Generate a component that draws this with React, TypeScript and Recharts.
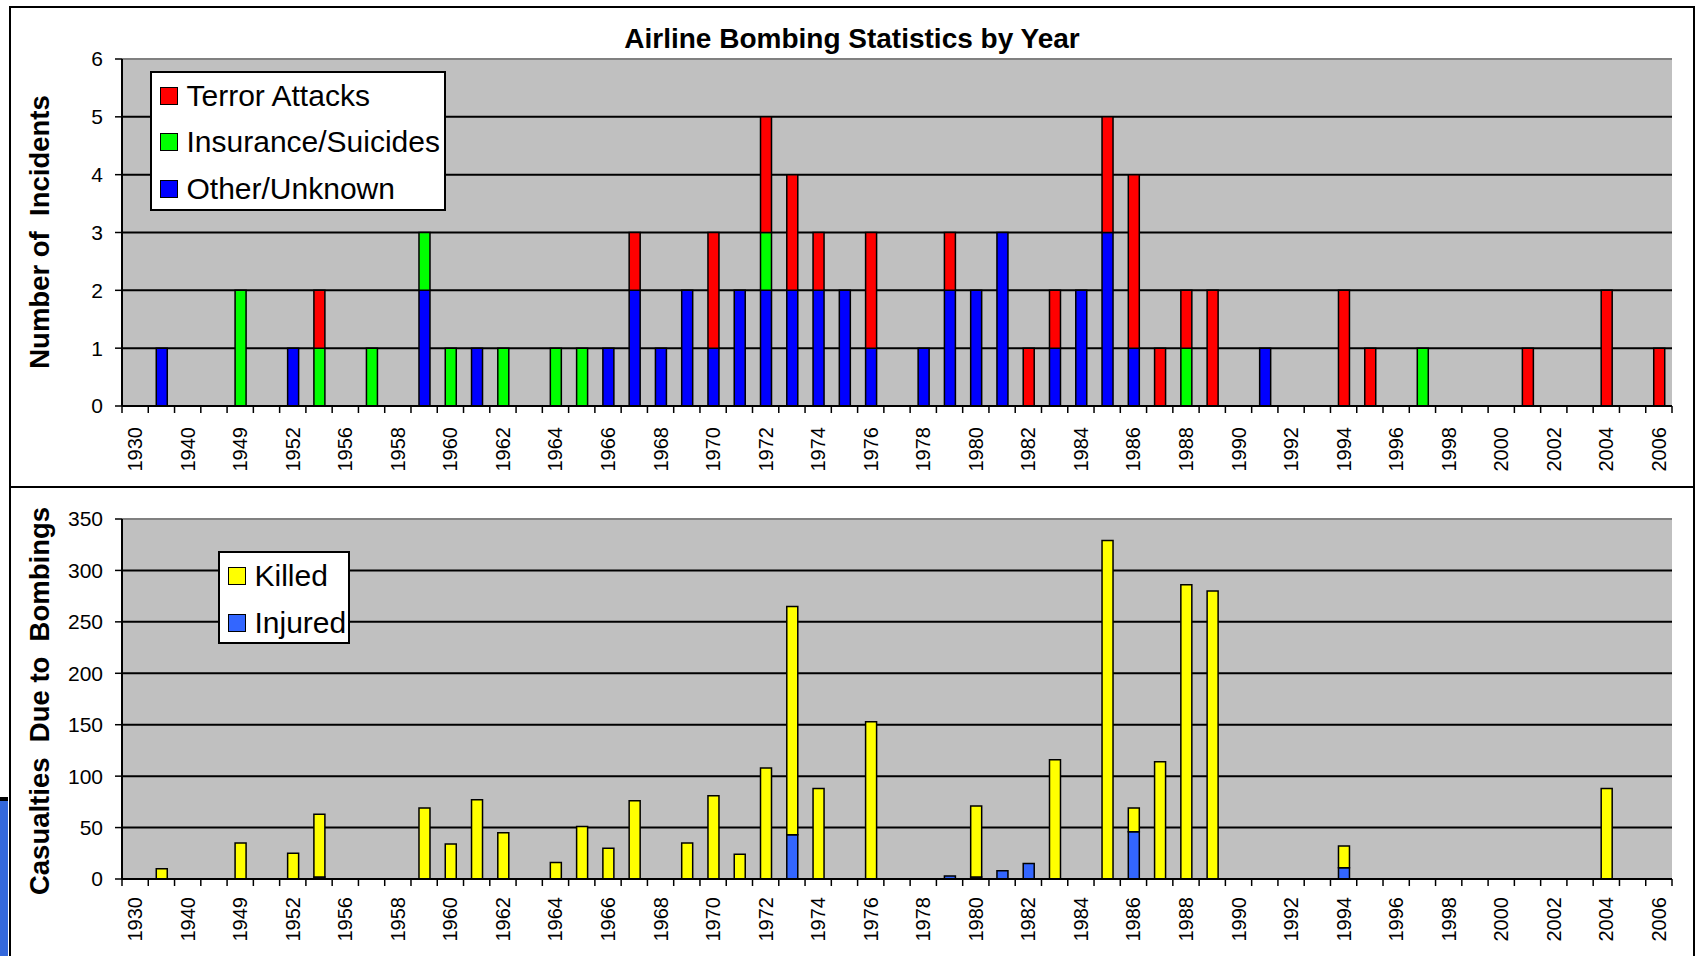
import { BarChart, Bar, XAxis, YAxis, CartesianGrid, Legend, ReferenceLine } from 'recharts';

const FONT = '"Liberation Sans", Arial, sans-serif';

// categories (only some early years are present, then every year from 1958)
const years = [
  '1930', '1933', '1940', '1947', '1949', '1950', '1952', '1955', '1956', '1957',
  '1958', '1959', '1960', '1961', '1962', '1963', '1964', '1965', '1966', '1967',
  '1968', '1969', '1970', '1971', '1972', '1973', '1974', '1975', '1976', '1977',
  '1978', '1979', '1980', '1981', '1982', '1983', '1984', '1985', '1986', '1987',
  '1988', '1989', '1990', '1991', '1992', '1993', '1994', '1995', '1996', '1997',
  '1998', '1999', '2000', '2001', '2002', '2003', '2004', '2005', '2006',
];

// incidents per year
const otherUnknown = [
  0, 1, 0, 0, 0, 0, 1, 0, 0, 0,
  0, 2, 0, 1, 0, 0, 0, 0, 1, 2,
  1, 2, 1, 2, 2, 2, 2, 2, 1, 0,
  1, 2, 2, 3, 0, 1, 2, 3, 1, 0,
  0, 0, 0, 1, 0, 0, 0, 0, 0, 0,
  0, 0, 0, 0, 0, 0, 0, 0, 0,
];
const insuranceSuicides = [
  0, 0, 0, 0, 2, 0, 0, 1, 0, 1,
  0, 1, 1, 0, 1, 0, 1, 1, 0, 0,
  0, 0, 0, 0, 1, 0, 0, 0, 0, 0,
  0, 0, 0, 0, 0, 0, 0, 0, 0, 0,
  1, 0, 0, 0, 0, 0, 0, 0, 0, 1,
  0, 0, 0, 0, 0, 0, 0, 0, 0,
];
const terrorAttacks = [
  0, 0, 0, 0, 0, 0, 0, 1, 0, 0,
  0, 0, 0, 0, 0, 0, 0, 0, 0, 1,
  0, 0, 2, 0, 2, 2, 1, 0, 2, 0,
  0, 1, 0, 0, 1, 1, 0, 2, 3, 1,
  1, 2, 0, 0, 0, 0, 2, 1, 0, 0,
  0, 0, 0, 1, 0, 0, 2, 0, 1,
];

// casualties per year (stacked: injured at the bottom)
const injured = [
  0, 0, 0, 0, 0, 0, 0, 2, 0, 0,
  0, 0, 0, 0, 0, 0, 0, 0, 0, 0,
  0, 0, 0, 0, 0, 43, 0, 0, 0, 0,
  0, 3, 2, 8, 15, 0, 0, 0, 46, 0,
  0, 0, 0, 0, 0, 0, 11, 0, 0, 0,
  0, 0, 0, 0, 0, 0, 0, 0, 0,
];
const killed = [
  0, 10, 0, 0, 35, 0, 25, 61, 0, 0,
  0, 69, 34, 77, 45, 0, 16, 51, 30, 76,
  0, 35, 81, 24, 108, 222, 88, 0, 153, 0,
  0, 0, 69, 0, 0, 116, 0, 329, 23, 114,
  286, 280, 0, 0, 0, 0, 21, 0, 0, 0,
  0, 0, 0, 0, 0, 0, 88, 0, 0,
];

const incidentTicks = [0, 1, 2, 3, 4, 5, 6];
const casualtyTicks = [0, 50, 100, 150, 200, 250, 300, 350];

const incidentData = years.map((year, i) => ({
  year,
  other: otherUnknown[i],
  insurance: insuranceSuicides[i],
  terror: terrorAttacks[i],
}));

const casualtyData = years.map((year, i) => ({
  year,
  injured: injured[i],
  killed: killed[i],
}));

const CHART_W = 1690;
const PLOT_LEFT = 122;
const PLOT_RIGHT = 1672;
const BAND = (PLOT_RIGHT - PLOT_LEFT) / years.length;
const Y_AXIS_W = 112;

const makeXTick = (offset: number) => (props: any) => {
  const { x, y, payload } = props;
  const half = BAND / 2;
  const ty = y + offset;
  return (
    <g>
      <line x1={x - half} x2={x - half} y1={y} y2={y + 7} stroke="#000" strokeWidth={1.5} />
      <line x1={x + half} x2={x + half} y1={y} y2={y + 7} stroke="#000" strokeWidth={1.5} />
      <text
        x={x}
        y={ty}
        dy="0.35em"
        textAnchor="end"
        transform={`rotate(-90 ${x} ${ty})`}
        fontSize={20}
        fontFamily={FONT}
        fill="#000"
      >
        {payload.value}
      </text>
    </g>
  );
};

const yTitle = (text: string, cy: number) => () => (
  <text
    x={49}
    y={cy}
    textAnchor="middle"
    transform={`rotate(-90 49 ${cy})`}
    fontSize={27.5}
    fontWeight="bold"
    fontFamily={FONT}
    fill="#000"
    style={{ whiteSpace: 'pre' }}
  >
    {text}
  </text>
);

interface LegendItem {
  label: string;
  color: string;
}

const LegendBox = ({ items, rowH }: { items: LegendItem[]; rowH: number }) => (
  <div
    style={{
      width: '100%',
      height: '100%',
      boxSizing: 'border-box',
      background: '#fff',
      border: '2px solid #000',
      fontFamily: FONT,
      fontSize: 30,
      color: '#000',
    }}
  >
    {items.map((it) => (
      <div
        key={it.label}
        style={{ display: 'flex', alignItems: 'center', height: rowH, paddingLeft: 7.5, whiteSpace: 'nowrap' }}
      >
        <span
          style={{
            display: 'inline-block',
            width: 18,
            height: 18,
            boxSizing: 'border-box',
            background: it.color,
            border: '1.5px solid #000',
            marginRight: 9,
          }}
        />
        <span style={{ lineHeight: 1 }}>{it.label}</span>
      </div>
    ))}
  </div>
);

const incidentLegend: LegendItem[] = [
  { label: 'Terror Attacks', color: '#FF0000' },
  { label: 'Insurance/Suicides', color: '#00FF00' },
  { label: 'Other/Unknown', color: '#0000FF' },
];

const casualtyLegend: LegendItem[] = [
  { label: 'Killed', color: '#FFFF00' },
  { label: 'Injured', color: '#3366FF' },
];

const axisTick = { fontSize: 21, fill: '#000', fontFamily: FONT };

const App = () => {
  return (
    <div
      style={{
        position: 'absolute',
        left: 0,
        top: 0,
        width: 1701,
        height: 956,
        overflow: 'hidden',
        background: '#fff',
        fontFamily: FONT,
      }}
    >
      {/* frames */}
      <div
        style={{
          position: 'absolute',
          left: 9,
          top: 6,
          width: 1686,
          height: 482,
          boxSizing: 'border-box',
          border: '2px solid #000',
        }}
      />
      <div
        style={{
          position: 'absolute',
          left: 9,
          top: 486,
          width: 1686,
          height: 480,
          boxSizing: 'border-box',
          border: '2px solid #000',
        }}
      />
      {/* bit of another window at the left edge */}
      <div
        style={{
          position: 'absolute',
          left: 0,
          top: 797,
          width: 8,
          height: 159,
          background: '#3468dc',
          borderTop: '4px solid #000',
        }}
      />

      <div
        style={{
          position: 'absolute',
          left: 9,
          top: 25,
          width: 1686,
          textAlign: 'center',
          fontSize: 28,
          lineHeight: '28px',
          fontWeight: 'bold',
        }}
      >
        Airline Bombing Statistics by Year
      </div>

      <div style={{ position: 'absolute', left: 0, top: 0 }}>
        <BarChart
          width={CHART_W}
          height={487}
          data={incidentData}
          margin={{ top: 59, right: CHART_W - PLOT_RIGHT, bottom: 0, left: PLOT_LEFT - Y_AXIS_W }}
        >
          <CartesianGrid
            vertical={false}
            horizontalValues={[1, 2, 3, 4, 5]}
            stroke="#000"
            strokeWidth={2}
            fill="#C0C0C0"
            fillOpacity={1}
          />
          <XAxis
            dataKey="year"
            interval={1}
            height={81}
            tickSize={0}
            tickMargin={0}
            tickLine={false}
            axisLine={{ stroke: '#000', strokeWidth: 2 }}
            tick={makeXTick(21)}
          />
          <YAxis
            width={Y_AXIS_W}
            domain={[0, 6]}
            ticks={incidentTicks}
            interval={0}
            tickSize={7}
            tickMargin={12}
            tick={axisTick}
            tickLine={{ stroke: '#000', strokeWidth: 1.5 }}
            axisLine={{ stroke: '#000', strokeWidth: 2 }}
            label={yTitle('Number of  Incidents', 232)}
          />
          <YAxis
            yAxisId="edge"
            orientation="right"
            width={0}
            tick={false}
            tickLine={false}
            axisLine={{ stroke: '#808080', strokeWidth: 2 }}
          />
          <ReferenceLine y={6} stroke="#808080" strokeWidth={2} />
          <Legend
            layout="vertical"
            align="center"
            verticalAlign="middle"
            wrapperStyle={{ left: 150, top: 71, width: 296, height: 140 }}
            content={() => <LegendBox items={incidentLegend} rowH={46.3} />}
          />
          <Bar dataKey="other" name="Other/Unknown" stackId="a" fill="#0000FF" stroke="#000" strokeWidth={1.5} barSize={11} isAnimationActive={false} />
          <Bar dataKey="insurance" name="Insurance/Suicides" stackId="a" fill="#00FF00" stroke="#000" strokeWidth={1.5} barSize={11} isAnimationActive={false} />
          <Bar dataKey="terror" name="Terror Attacks" stackId="a" fill="#FF0000" stroke="#000" strokeWidth={1.5} barSize={11} isAnimationActive={false} />
        </BarChart>
      </div>

      <div style={{ position: 'absolute', left: 0, top: 487 }}>
        <BarChart
          width={CHART_W}
          height={469}
          data={casualtyData}
          margin={{ top: 32, right: CHART_W - PLOT_RIGHT, bottom: 0, left: PLOT_LEFT - Y_AXIS_W }}
        >
          <CartesianGrid
            vertical={false}
            horizontalValues={[50, 100, 150, 200, 250, 300]}
            stroke="#000"
            strokeWidth={2}
            fill="#C0C0C0"
            fillOpacity={1}
          />
          <XAxis
            dataKey="year"
            interval={1}
            height={77}
            tickSize={0}
            tickMargin={0}
            tickLine={false}
            axisLine={{ stroke: '#000', strokeWidth: 2 }}
            tick={makeXTick(18)}
          />
          <YAxis
            width={Y_AXIS_W}
            domain={[0, 350]}
            ticks={casualtyTicks}
            interval={0}
            tickSize={7}
            tickMargin={12}
            tick={axisTick}
            tickLine={{ stroke: '#000', strokeWidth: 1.5 }}
            axisLine={{ stroke: '#000', strokeWidth: 2 }}
            label={yTitle('Casualties  Due to  Bombings', 214)}
          />
          <YAxis
            yAxisId="edge"
            orientation="right"
            width={0}
            tick={false}
            tickLine={false}
            axisLine={{ stroke: '#808080', strokeWidth: 2 }}
          />
          <ReferenceLine y={350} stroke="#808080" strokeWidth={2} />
          <Legend
            layout="vertical"
            align="center"
            verticalAlign="middle"
            wrapperStyle={{ left: 218, top: 64, width: 132, height: 93 }}
            content={() => <LegendBox items={casualtyLegend} rowH={46.5} />}
          />
          <Bar dataKey="injured" name="Injured" stackId="c" fill="#3366FF" stroke="#000" strokeWidth={1.5} barSize={11} isAnimationActive={false} />
          <Bar dataKey="killed" name="Killed" stackId="c" fill="#FFFF00" stroke="#000" strokeWidth={1.5} barSize={11} isAnimationActive={false} />
        </BarChart>
      </div>
    </div>
  );
};

export default App;
